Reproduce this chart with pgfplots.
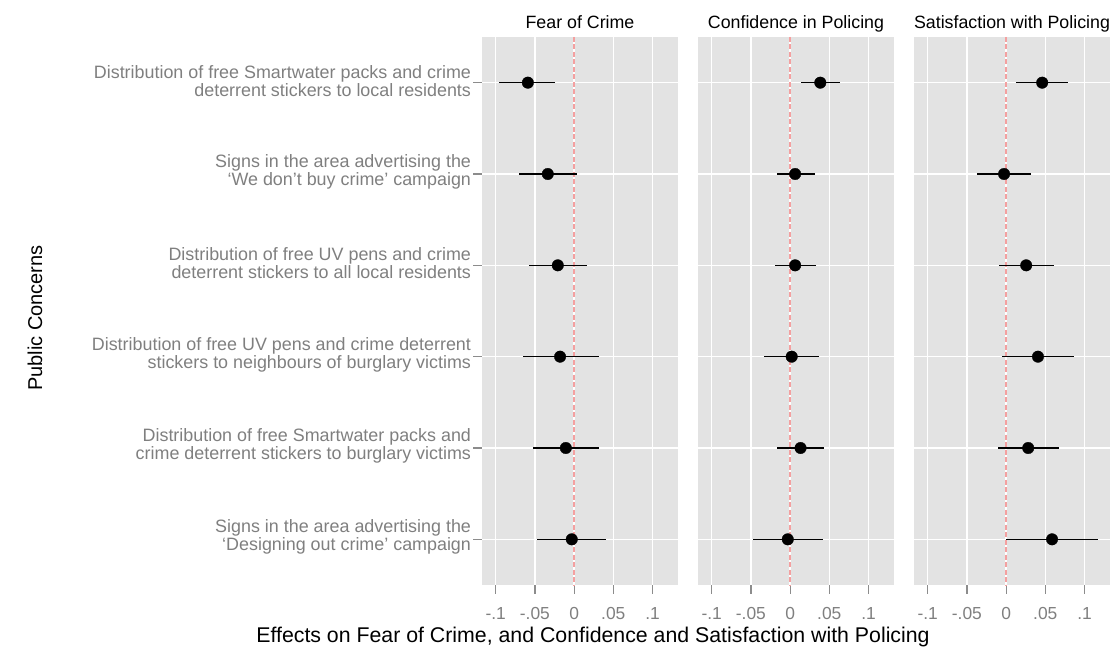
\documentclass[border=0pt]{standalone}
\usepackage{fontspec}
\setmainfont{Liberation Sans}
\usepackage{pgfplots}
\pgfplotsset{compat=1.18}
\usepackage{pgfplotstable}

\definecolor{panelbg}{HTML}{E3E3E3}
\definecolor{ticklab}{HTML}{7F7F7F}
\definecolor{zeroline}{HTML}{F4A0A0}

\pgfplotstableread{
row est lo hi
1 -0.0590 -0.0957 -0.0238
2 -0.0336 -0.0697 0.0034
3 -0.0208 -0.0580 0.0170
4 -0.0179 -0.0650 0.0320
5 -0.0106 -0.0530 0.0320
6 -0.0030 -0.0470 0.0410
}\fear
\pgfplotstableread{
row est lo hi
1 0.0385 0.0137 0.0633
2 0.0064 -0.0170 0.0320
3 0.0064 -0.0190 0.0334
4 0.0020 -0.0330 0.0364
5 0.0133 -0.0163 0.0428
6 -0.0030 -0.0470 0.0415
}\confidence
\pgfplotstableread{
row est lo hi
1 0.0460 0.0124 0.0795
2 -0.0026 -0.0368 0.0316
3 0.0256 -0.0090 0.0615
4 0.0406 -0.0047 0.0860
5 0.0282 -0.0107 0.0680
6 0.0586 0.0000 0.1175
}\satisfaction

\pgfplotsset{
  panel/.style={
    width=196pt, height=548pt, scale only axis,
    xmin=-0.1175, xmax=0.1325, ymin=0.5, ymax=6.5, y dir=reverse,
    axis background/.style={fill=panelbg},
    axis line style={draw=none},
    grid=major, grid style={white, line width=1.3pt},
    xtick={-0.1,-0.05,0,0.05,0.1},
    xticklabels={-.1,-.05,0,.05,.1},
    ytick={1,2,3,4,5,6},
    tick align=outside, major tick length=8.5pt,
    tick style={ticklab!90, line width=1.2pt},
    xtick pos=lower, ytick pos=left,
    xticklabel style={font=\fontsize{17.4}{20}\selectfont, text=ticklab, yshift=-10pt},
    scaled x ticks=false,
  },
  est/.style={black, only marks, mark=*, mark size=5.8pt,
    mark options={draw=black, fill=black, line width=0.3pt},
    error bars/.cd, x dir=both, x explicit, error mark=none,
    error bar style={line width=1.5pt, black}},
}

\begin{document}
\begin{tikzpicture}
\useasboundingbox (0,0) rectangle (1112pt,652pt);

\begin{axis}[panel, at={(482pt,67pt)}, anchor=south west,
  yticklabels={
    {Distribution of free Smartwater packs and crime\\deterrent stickers to local residents},
    {Signs in the area advertising the\\‘We don’t buy crime’ campaign},
    {Distribution of free UV pens and crime\\deterrent stickers to all local residents},
    {Distribution of free UV pens and crime deterrent\\stickers to neighbours of burglary victims},
    {Distribution of free Smartwater packs and\\crime deterrent stickers to burglary victims},
    {Signs in the area advertising the\\‘Designing out crime’ campaign}},
  yticklabel style={align=right, font=\fontsize{17.9}{18}\selectfont, text=ticklab, yshift=2pt, xshift=1pt},
]
\addplot[zeroline, line width=1.3pt, dash pattern=on 5pt off 2.5pt] coordinates {(0,0.5) (0,6.5)};
\addplot[est] table[x=est, y=row, x error plus expr=\thisrow{hi}-\thisrow{est}, x error minus expr=\thisrow{est}-\thisrow{lo}] {\fear};
\end{axis}

\begin{axis}[panel, at={(698pt,67pt)}, anchor=south west,
  yticklabels={}, ytick style={draw=none}]
\addplot[zeroline, line width=1.3pt, dash pattern=on 5pt off 2.5pt] coordinates {(0,0.5) (0,6.5)};
\addplot[est] table[x=est, y=row, x error plus expr=\thisrow{hi}-\thisrow{est}, x error minus expr=\thisrow{est}-\thisrow{lo}] {\confidence};
\end{axis}

\begin{axis}[panel, at={(914pt,67pt)}, anchor=south west,
  yticklabels={}, ytick style={draw=none}]
\addplot[zeroline, line width=1.3pt, dash pattern=on 5pt off 2.5pt] coordinates {(0,0.5) (0,6.5)};
\addplot[est] table[x=est, y=row, x error plus expr=\thisrow{hi}-\thisrow{est}, x error minus expr=\thisrow{est}-\thisrow{lo}] {\satisfaction};
\end{axis}

\node[anchor=base, font=\fontsize{17.8}{20}\selectfont] at (580pt,623pt) {Fear of Crime};
\node[anchor=base, font=\fontsize{17.8}{20}\selectfont] at (796pt,623pt) {Confidence in Policing};
\node[anchor=base, font=\fontsize{17.8}{20}\selectfont] at (1012pt,623pt) {Satisfaction with Policing};
\node[anchor=base, font=\fontsize{21.3}{24}\selectfont] at (593pt,9pt) {Effects on Fear of Crime, and Confidence and Satisfaction with Policing};
\node[rotate=90, font=\fontsize{20}{24}\selectfont] at (35pt,334pt) {Public Concerns};
\end{tikzpicture}
\end{document}
